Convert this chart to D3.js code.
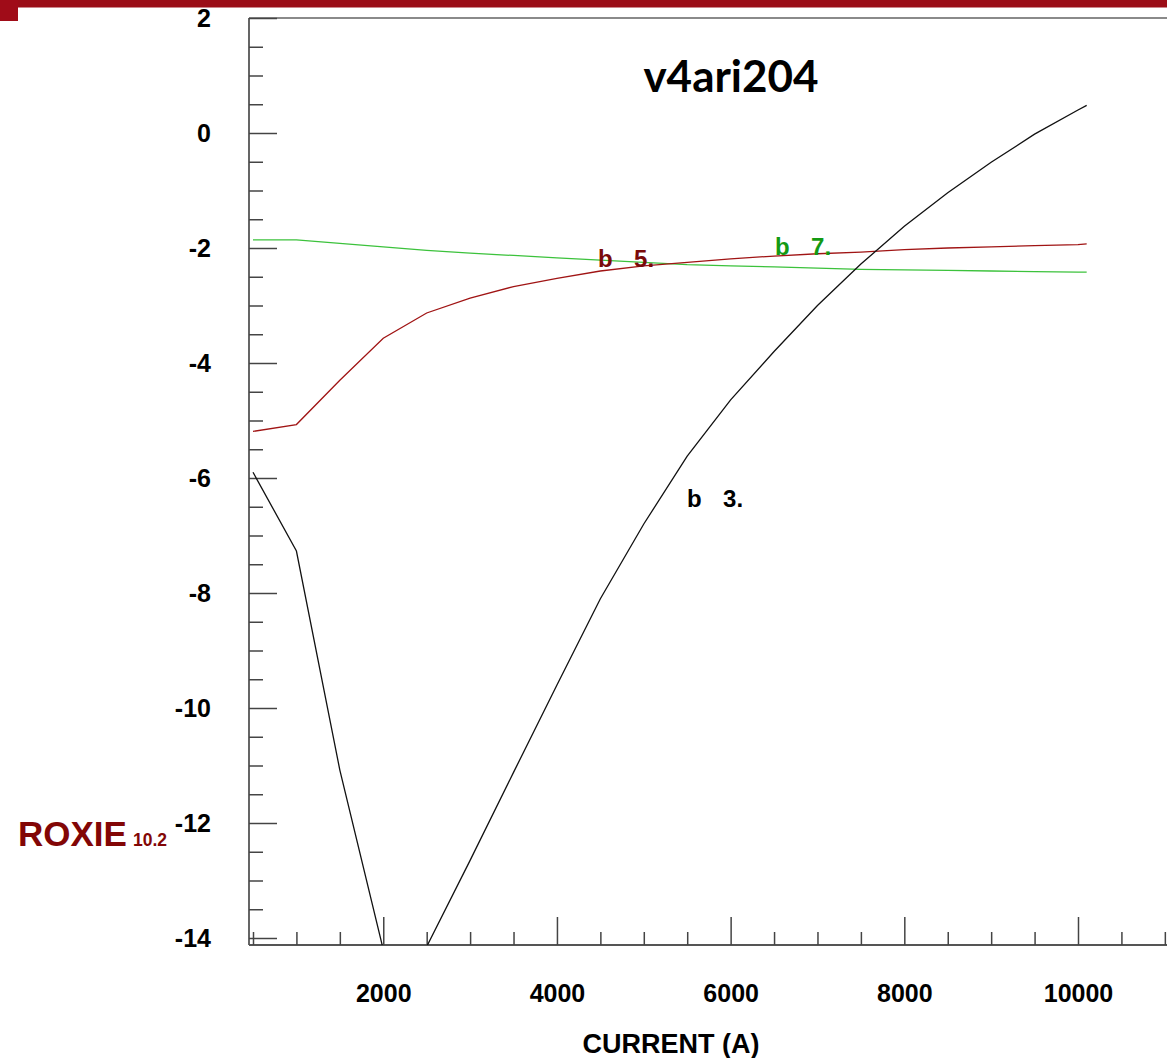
<!DOCTYPE html>
<html>
<head>
<meta charset="utf-8">
<script src="https://cdn.jsdelivr.net/npm/d3@7"></script>
<style>
  body { margin: 0; background: #fff; }
  text { font-family: "Liberation Sans", Arial, sans-serif; font-weight: bold; }
</style>
</head>
<body>
<div id="chart"></div>
<script>
// Chart values
var currents = [500, 1000, 1500, 2000, 2500, 3000, 3500, 4000, 4500, 5000, 5500,
  6000, 6500, 7000, 7500, 8000, 8500, 9000, 9500, 10000, 10100];
var b3 = [-5.90, -7.27, -11.08, -14.20, -14.15, -12.65, -11.12, -9.60, -8.10, -6.80, -5.62,
  -4.64, -3.80, -3.00, -2.28, -1.62, -1.04, -0.51, -0.02, 0.40, 0.48];
var b5 = [-5.19, -5.07, -4.30, -3.57, -3.13, -2.87, -2.67, -2.53, -2.40, -2.31, -2.25,
  -2.19, -2.14, -2.10, -2.07, -2.03, -2.00, -1.98, -1.96, -1.94, -1.93];
var b7 = [-1.86, -1.86, -1.92, -1.98, -2.04, -2.09, -2.13, -2.17, -2.21, -2.25, -2.29,
  -2.31, -2.33, -2.35, -2.37, -2.38, -2.39, -2.40, -2.41, -2.42, -2.42];

// Tick values
var xMajorTicks = [2000, 4000, 6000, 8000, 10000];
var xMinorTicks = [500, 1000, 1500, 2500, 3000, 3500, 4500, 5000, 5500, 6500, 7000, 7500,
  8500, 9000, 9500, 10500, 11000];
var yMajorTicks = [2, 0, -2, -4, -6, -8, -10, -12, -14];
var yMinorTicks = [1.5, 1, 0.5, -0.5, -1, -1.5, -2.5, -3, -3.5, -4.5, -5, -5.5, -6.5, -7, -7.5,
  -8.5, -9, -9.5, -10.5, -11, -11.5, -12.5, -13, -13.5];

// Curve labels: name, number, anchor (current, value)
var labelNames = ["b", "b", "b"];
var labelNumbers = ["3.", "5.", "7."];
var labelCurrents = [5499, 4474, 6512];
var labelValues = [-6.5, -2.33, -2.12];

var svgWidth = 1167;
var svgHeight = 1058;

var plot = { left: 249, right: 1167, top: 18, bottom: 945 };

var svg = d3.select("#chart")
  .append("svg")
  .attr("width", svgWidth)
  .attr("height", svgHeight);

// Scales
var xScale = d3.scaleLinear().domain([500, 10000]).range([253, 1078]);
var yScale = d3.scaleLinear().domain([2, -14]).range([18, 938]);

// Header bar and corner square
svg.append("rect").attr("x", 0).attr("y", 0).attr("width", svgWidth).attr("height", 7.5)
  .attr("fill", "#9b0d17");
svg.append("rect").attr("x", 0).attr("y", 0).attr("width", 18).attr("height", 21)
  .attr("fill", "#a00c18");

// Frame lines
svg.append("line")
  .attr("x1", plot.left).attr("x2", plot.right)
  .attr("y1", plot.top).attr("y2", plot.top)
  .attr("stroke", "#8a8a8a").attr("stroke-width", 2);
svg.append("line")
  .attr("x1", plot.left).attr("x2", plot.left)
  .attr("y1", plot.top).attr("y2", plot.bottom)
  .attr("stroke", "#555").attr("stroke-width", 1.8);
svg.append("line")
  .attr("x1", plot.left).attr("x2", plot.right)
  .attr("y1", plot.bottom).attr("y2", plot.bottom)
  .attr("stroke", "#555").attr("stroke-width", 2);

// Y axis: minor then major ticks drawn inward
var yMinor = svg.append("g")
  .attr("transform", `translate(${plot.left}, 0)`)
  .call(d3.axisLeft(yScale).tickValues(yMinorTicks).tickSize(-14).tickFormat(""));
var yMajor = svg.append("g")
  .attr("transform", `translate(${plot.left}, 0)`)
  .call(d3.axisLeft(yScale).tickValues(yMajorTicks).tickSize(-28).tickPadding(38)
    .tickFormat(d => String(d)));

// X axis
var xMinor = svg.append("g")
  .attr("transform", `translate(0, ${plot.bottom})`)
  .call(d3.axisBottom(xScale).tickValues(xMinorTicks).tickSize(-13).tickFormat(""));
var xMajor = svg.append("g")
  .attr("transform", `translate(0, ${plot.bottom})`)
  .call(d3.axisBottom(xScale).tickValues(xMajorTicks).tickSize(-28).tickPadding(39)
    .tickFormat(d => String(d)));

[yMinor, yMajor, xMinor, xMajor].forEach(function(g) {
  g.select(".domain").remove();
  g.selectAll(".tick line").attr("stroke", "#444").attr("stroke-width", 1.5);
  g.selectAll(".tick text")
    .attr("fill", "#000")
    .style("font-size", "25px")
    .style("font-family", "'Liberation Sans', Arial, sans-serif")
    .style("font-weight", "bold");
});

// Clip curves to plot area
svg.append("clipPath").attr("id", "plot-clip")
  .append("rect")
  .attr("x", plot.left).attr("y", plot.top)
  .attr("width", plot.right - plot.left).attr("height", plot.bottom - plot.top);

var curveGroup = svg.append("g").attr("clip-path", "url(#plot-clip)");

var line = d3.line()
  .x((d, i) => xScale(currents[i]))
  .y(d => yScale(d));

curveGroup.append("path").datum(b7)
  .attr("d", line).attr("fill", "none")
  .attr("stroke", "#3cc23c").attr("stroke-width", 1.3);
curveGroup.append("path").datum(b5)
  .attr("d", line).attr("fill", "none")
  .attr("stroke", "#a01414").attr("stroke-width", 1.3);
curveGroup.append("path").datum(b3)
  .attr("d", line).attr("fill", "none")
  .attr("stroke", "#111").attr("stroke-width", 1.3);

// Curve labels
var labelColors = ["#000", "#7a0a0a", "#139a13"];
labelNames.forEach(function(name, i) {
  var x = xScale(labelCurrents[i]);
  var y = yScale(labelValues[i]);
  svg.append("text").attr("x", x).attr("y", y)
    .attr("fill", labelColors[i]).style("font-size", "24px")
    .text(name);
  svg.append("text").attr("x", x + 36).attr("y", y)
    .attr("fill", labelColors[i]).style("font-size", "24px")
    .text(labelNumbers[i]);
});

// Title
svg.append("text")
  .attr("x", 731).attr("y", 92)
  .attr("text-anchor", "middle")
  .style("font-family", "Lato, 'Open Sans', sans-serif")
  .style("font-size", "44px")
  .attr("fill", "#000")
  .text("v4ari204");

// X axis title
svg.append("text")
  .attr("x", 671).attr("y", 1053)
  .attr("text-anchor", "middle")
  .style("font-size", "27px")
  .attr("fill", "#000")
  .text("CURRENT (A)");

// ROXIE logo text
var logo = svg.append("text")
  .attr("x", 18).attr("y", 846)
  .attr("fill", "#820606");
logo.append("tspan").style("font-size", "35px").text("ROXIE");
logo.append("tspan").attr("dx", 6).style("font-size", "17.5px").text("10.2");
</script>
</body>
</html>
